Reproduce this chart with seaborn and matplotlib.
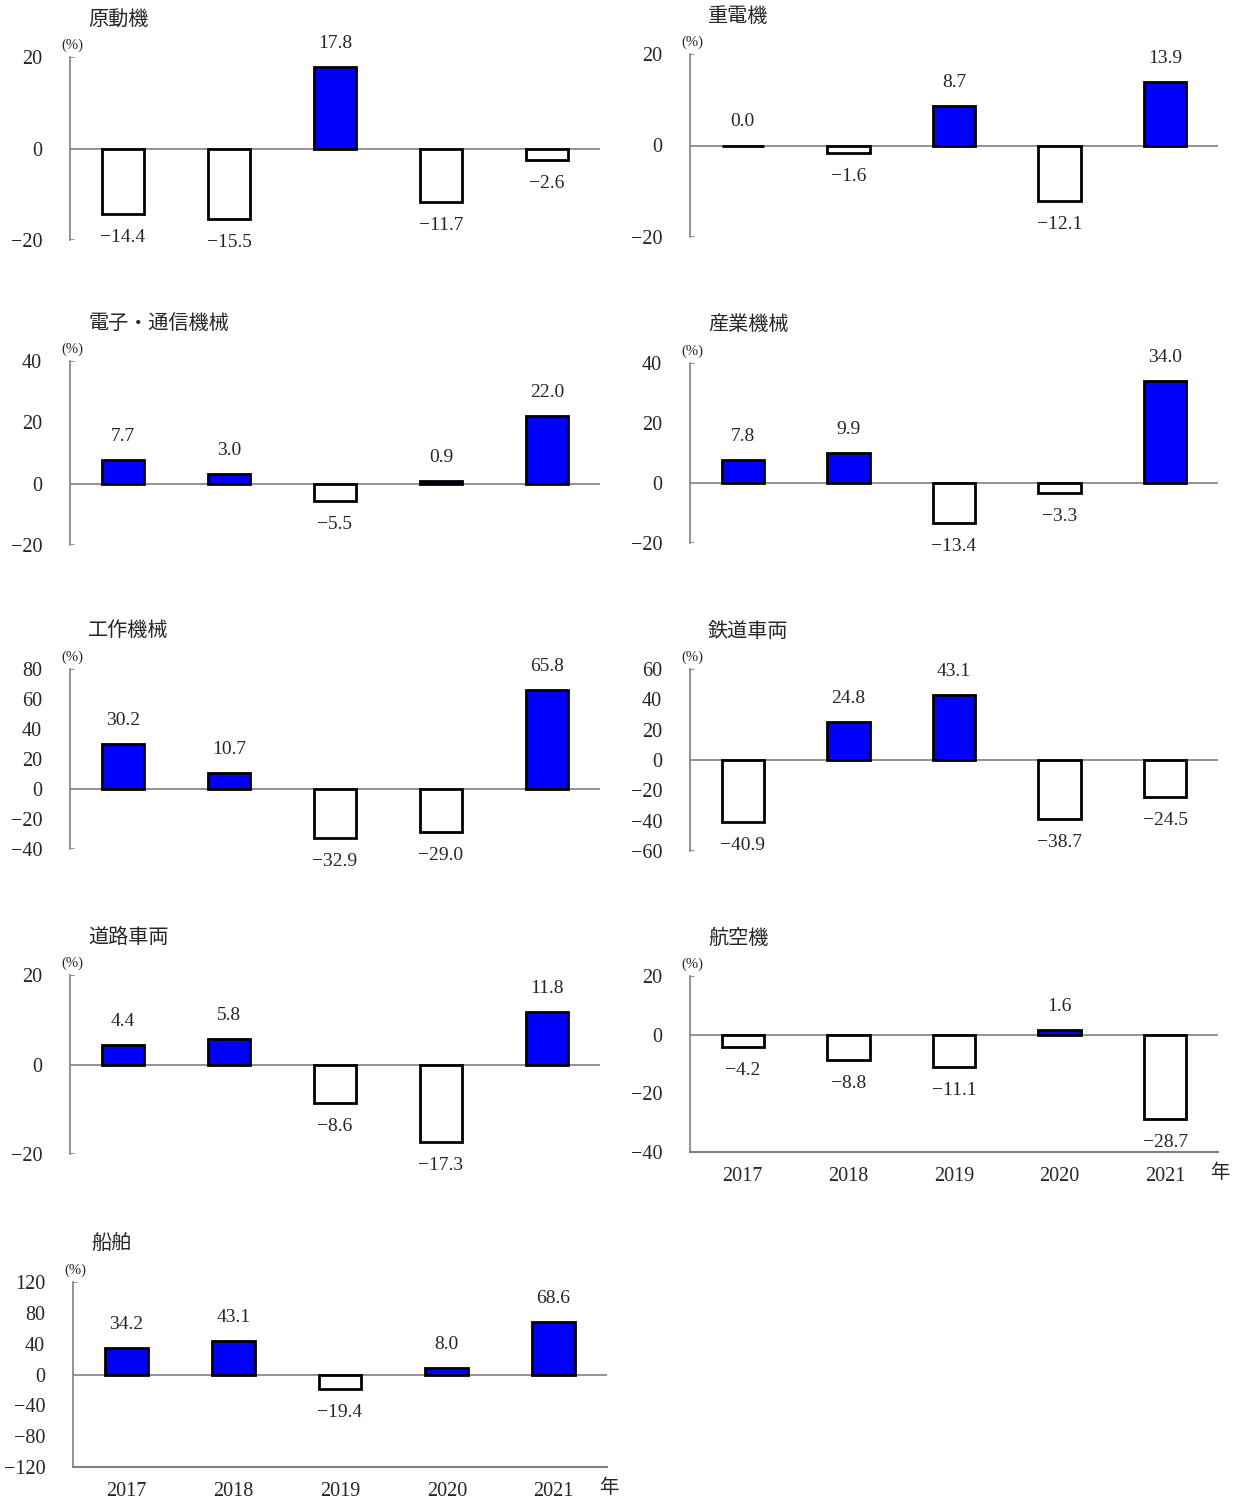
import matplotlib
matplotlib.use('Agg')
import matplotlib.pyplot as plt
import seaborn as sns

sns.set_style('white')
plt.rcParams['font.family'] = ['Liberation Serif', 'Noto Sans CJK JP']

# Data
years = ['2017', '2018', '2019', '2020', '2021']
titles = ['原動機', '重電機', '電子・通信機械', '産業機械', '工作機械',
          '鉄道車両', '道路車両', '航空機', '船舶']
gendoki = [-14.4, -15.5, 17.8, -11.7, -2.6]
judenki = [0.0, -1.6, 8.7, -12.1, 13.9]
denshi = [7.7, 3.0, -5.5, 0.9, 22.0]
sangyo = [7.8, 9.9, -13.4, -3.3, 34.0]
kosaku = [30.2, 10.7, -32.9, -29.0, 65.8]
tetsudo = [-40.9, 24.8, 43.1, -38.7, -24.5]
doro = [4.4, 5.8, -8.6, -17.3, 11.8]
kokuki = [-4.2, -8.8, -11.1, 1.6, -28.7]
senpaku = [34.2, 43.1, -19.4, 8.0, 68.6]
series = [gendoki, judenki, denshi, sangyo, kosaku, tetsudo, doro, kokuki, senpaku]
yticks = [[-20, 0, 20], [-20, 0, 20], [-20, 0, 20, 40], [-20, 0, 20, 40],
          list(range(-40, 81, 20)), list(range(-60, 61, 20)), [-20, 0, 20],
          [-40, -20, 0, 20], list(range(-120, 121, 40))]

# axes placement in pixels: left, top, right, bottom
W, H = 1237, 1500
boxes = [(70, 57, 600, 240), (690, 54, 1218, 237),
         (70, 361, 600, 545), (690, 363, 1218, 543),
         (70, 669, 600, 849), (690, 669, 1218, 851),
         (70, 975, 600, 1154), (690, 976, 1218, 1152),
         (73, 1282, 607, 1467)]
bottom_panels = {7, 8}


def fmt(v, digits=1):
    s = f'{v:.{digits}f}'
    return s.replace('-', '\u2212')


fig = plt.figure(figsize=(W / 100, H / 100), dpi=100)
gray = '#808080'

for i, (title, vals, ticks, box) in enumerate(zip(titles, series, yticks, boxes)):
    l, t, r, b = box
    ax = fig.add_axes([l / W, 1 - b / H, (r - l) / W, (b - t) / H])
    signs = ['pos' if v >= 0 else 'neg' for v in vals]
    sns.barplot(x=years, y=vals, hue=signs, order=years, dodge=False,
                palette={'pos': '#0000FF', 'neg': 'white'}, hue_order=['pos', 'neg'],
                width=0.4, edgecolor='black', linewidth=2, saturation=1,
                legend=False, ax=ax)
    ax.set_xlim(-0.5, 4.5)
    ax.set_ylim(ticks[0], ticks[-1])
    ax.set_yticks(ticks)
    ax.set_yticklabels([fmt(v, 0) for v in ticks])
    ax.axhline(0, color=gray, lw=1.2, zorder=0)
    for s in ['top', 'right']:
        ax.spines[s].set_visible(False)
    ax.spines['left'].set_color(gray)
    ax.spines['left'].set_linewidth(1.2)
    ax.axhline(ticks[-1], xmin=0, xmax=0.008, color=gray, lw=1.2)
    ax.tick_params(axis='y', length=0, pad=20, labelsize=14.5)
    if i in bottom_panels:
        ax.spines['bottom'].set_color(gray)
        ax.spines['bottom'].set_linewidth(1.5)
        ax.tick_params(axis='x', length=0, pad=11, labelsize=14.5)
        ax.annotate('年', xy=(1, 0), xycoords='axes fraction', xytext=(2, -21),
                    textcoords='offset pixels', ha='center', va='center', fontsize=14)
    else:
        ax.spines['bottom'].set_visible(False)
        ax.axhline(ticks[0], xmin=0, xmax=0.008, color=gray, lw=1.2)
        ax.set_xticklabels([])
        ax.tick_params(axis='x', length=0)
    ax.set_xlabel('')
    ax.set_ylabel('')

    for x, v in enumerate(vals):
        if v >= 0:
            ax.annotate(fmt(v), xy=(x, v), xytext=(0, 15), textcoords='offset pixels',
                        ha='center', va='bottom', fontsize=14)
        else:
            ax.annotate(fmt(v), xy=(x, v), xytext=(0, -15), textcoords='offset pixels',
                        ha='center', va='top', fontsize=14)

    ax.annotate('(%)', xy=(0, 1), xycoords='axes fraction', xytext=(2, 12),
                textcoords='offset pixels', ha='center', va='center', fontsize=10.5)
    ax.annotate(title, xy=(0, 1), xycoords='axes fraction', xytext=(18, 37),
                textcoords='offset pixels', ha='left', va='center', fontsize=14.5)

fig.savefig('out.png', dpi=100)
